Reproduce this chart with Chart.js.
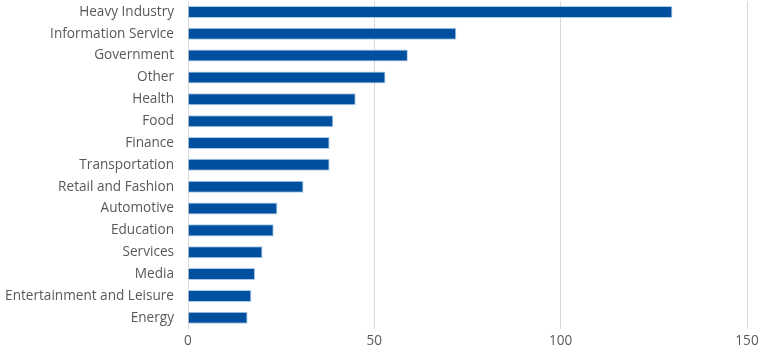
<!DOCTYPE html>
<html>
<head>
<meta charset="utf-8">
<script src="https://cdn.jsdelivr.net/npm/chart.js@4.4.0/dist/chart.umd.min.js"></script>
<style>
  html,body{margin:0;padding:0;background:#fff;}
  #wrap{width:768px;height:362px;position:relative;}
</style>
</head>
<body>
<div id="wrap"><canvas id="bar-chart"></canvas></div>
<script>
// 業種ごとの件数
const categories = [
  "Heavy Industry","Information Service","Government","Other","Health","Food",
  "Finance","Transportation","Retail and Fashion","Automotive","Education",
  "Services","Media","Entertainment and Leisure","Energy"
];
const counts = [130, 72, 59, 53, 45, 39, 38, 38, 31, 24, 23, 20, 18, 17, 16];
const xTicks = [0, 50, 100, 150];

const ctx = document.getElementById("bar-chart").getContext("2d");
new Chart(ctx,{
  type:"bar",
  data:{
    labels:categories,
    datasets:[{
      data:counts,
      backgroundColor:"#00509f",
      borderColor:"rgba(110,160,220,0.55)",
      borderWidth:1,
      categoryPercentage:0.55,
      barPercentage:1
    }]
  },
  options:{
    indexAxis:"y",
    responsive:true,
    maintainAspectRatio:false,
    animation:false,
    layout:{autoPadding:false,padding:{left:5,right:21,top:1,bottom:9}},
    plugins:{legend:{display:false},tooltip:{enabled:false}},
    scales:{
      x:{
        min:0,max:150,
        afterBuildTicks:s=>{ s.ticks = xTicks.map(v=>({value:v})); },
        grid:{color:"#d9d9d9",lineWidth:1,drawTicks:false},
        border:{display:false},
        ticks:{color:"#595959",font:{family:"Open Sans",size:13.6},padding:4}
      },
      y:{
        grid:{display:false,drawTicks:false},
        border:{display:false},
        ticks:{color:"#595959",font:{family:"Open Sans",size:13.6},padding:14},
        // ラベル分の上下パディングは不要
        afterFit:s=>{ s.width = 183; s.paddingTop = 0; s.paddingBottom = 0; }
      }
    }
  }
});
</script>
</body>
</html>
